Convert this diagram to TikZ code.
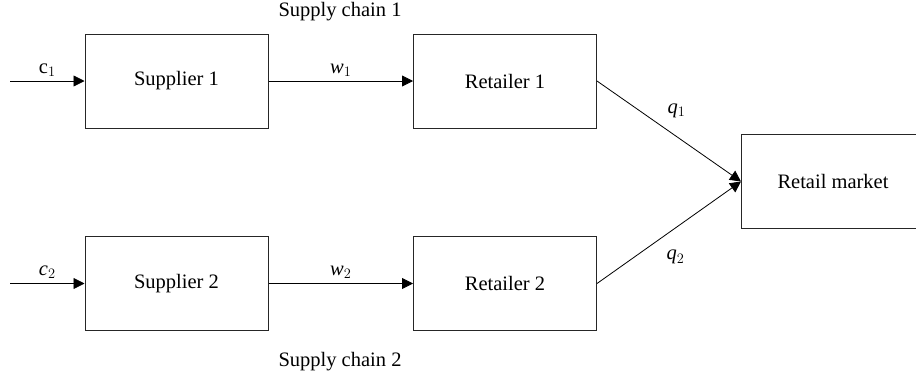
\documentclass[tikz,border=0pt]{standalone}
\usepackage{fontspec}
\setmainfont{Liberation Serif}
\usetikzlibrary{arrows.meta,positioning}

\begin{document}
\begin{tikzpicture}[
        x=1pt, y=-1pt,
        >={Triangle[length=11pt,width=11pt]},
        font=\fontsize{20.5}{24}\selectfont,
        box/.style={draw=black!85, line width=1pt, minimum width=183pt, minimum height=94pt},
        flow/.style={->, line width=0.8pt}
        ]
            \useasboundingbox (0, 0) rectangle (916, 381);

            % Supply chain 1
            \node[box] (sup1) at (176.5, 81) {Supplier 1};
            \node[box] (ret1) at (505, 81) {Retailer 1};
            \coordinate (in1) at (10, 81);
            \draw[flow] (in1) -- node[above=1pt] {$\mathrm{c}_1$} (sup1);
            \draw[flow] (sup1) -- node[above=1pt] {$\mathit{w}_1$} (ret1);
            \node (chain1) at (340, 12) {Supply chain 1};

            % Supply chain 2
            \node[box] (sup2) at (176.5, 283.5) {Supplier 2};
            \node[box] (ret2) at (505, 283.5) {Retailer 2};
            \coordinate (in2) at (10, 283.5);
            \draw[flow] (in2) -- node[above=1pt] {$\mathit{c}_2$} (sup2);
            \draw[flow] (sup2) -- node[above=1pt] {$\mathit{w}_2$} (ret2);
            \node (chain2) at (340, 362) {Supply chain 2};

            % Market (box runs off the right edge)
            \node[box, minimum width=200pt] (market) at (841.5, 181.5) {};
            \node (marketlbl) at (833, 181.5) {Retail market};
            \draw[flow] (ret1.east) -- node[above right=10pt and -5pt] {$\mathit{q}_1$} (market.west);
            \draw[flow] (ret2.east) -- node[below right=14pt and -6pt] {$\mathit{q}_2$} (market.west);
        \end{tikzpicture}
\end{document}
